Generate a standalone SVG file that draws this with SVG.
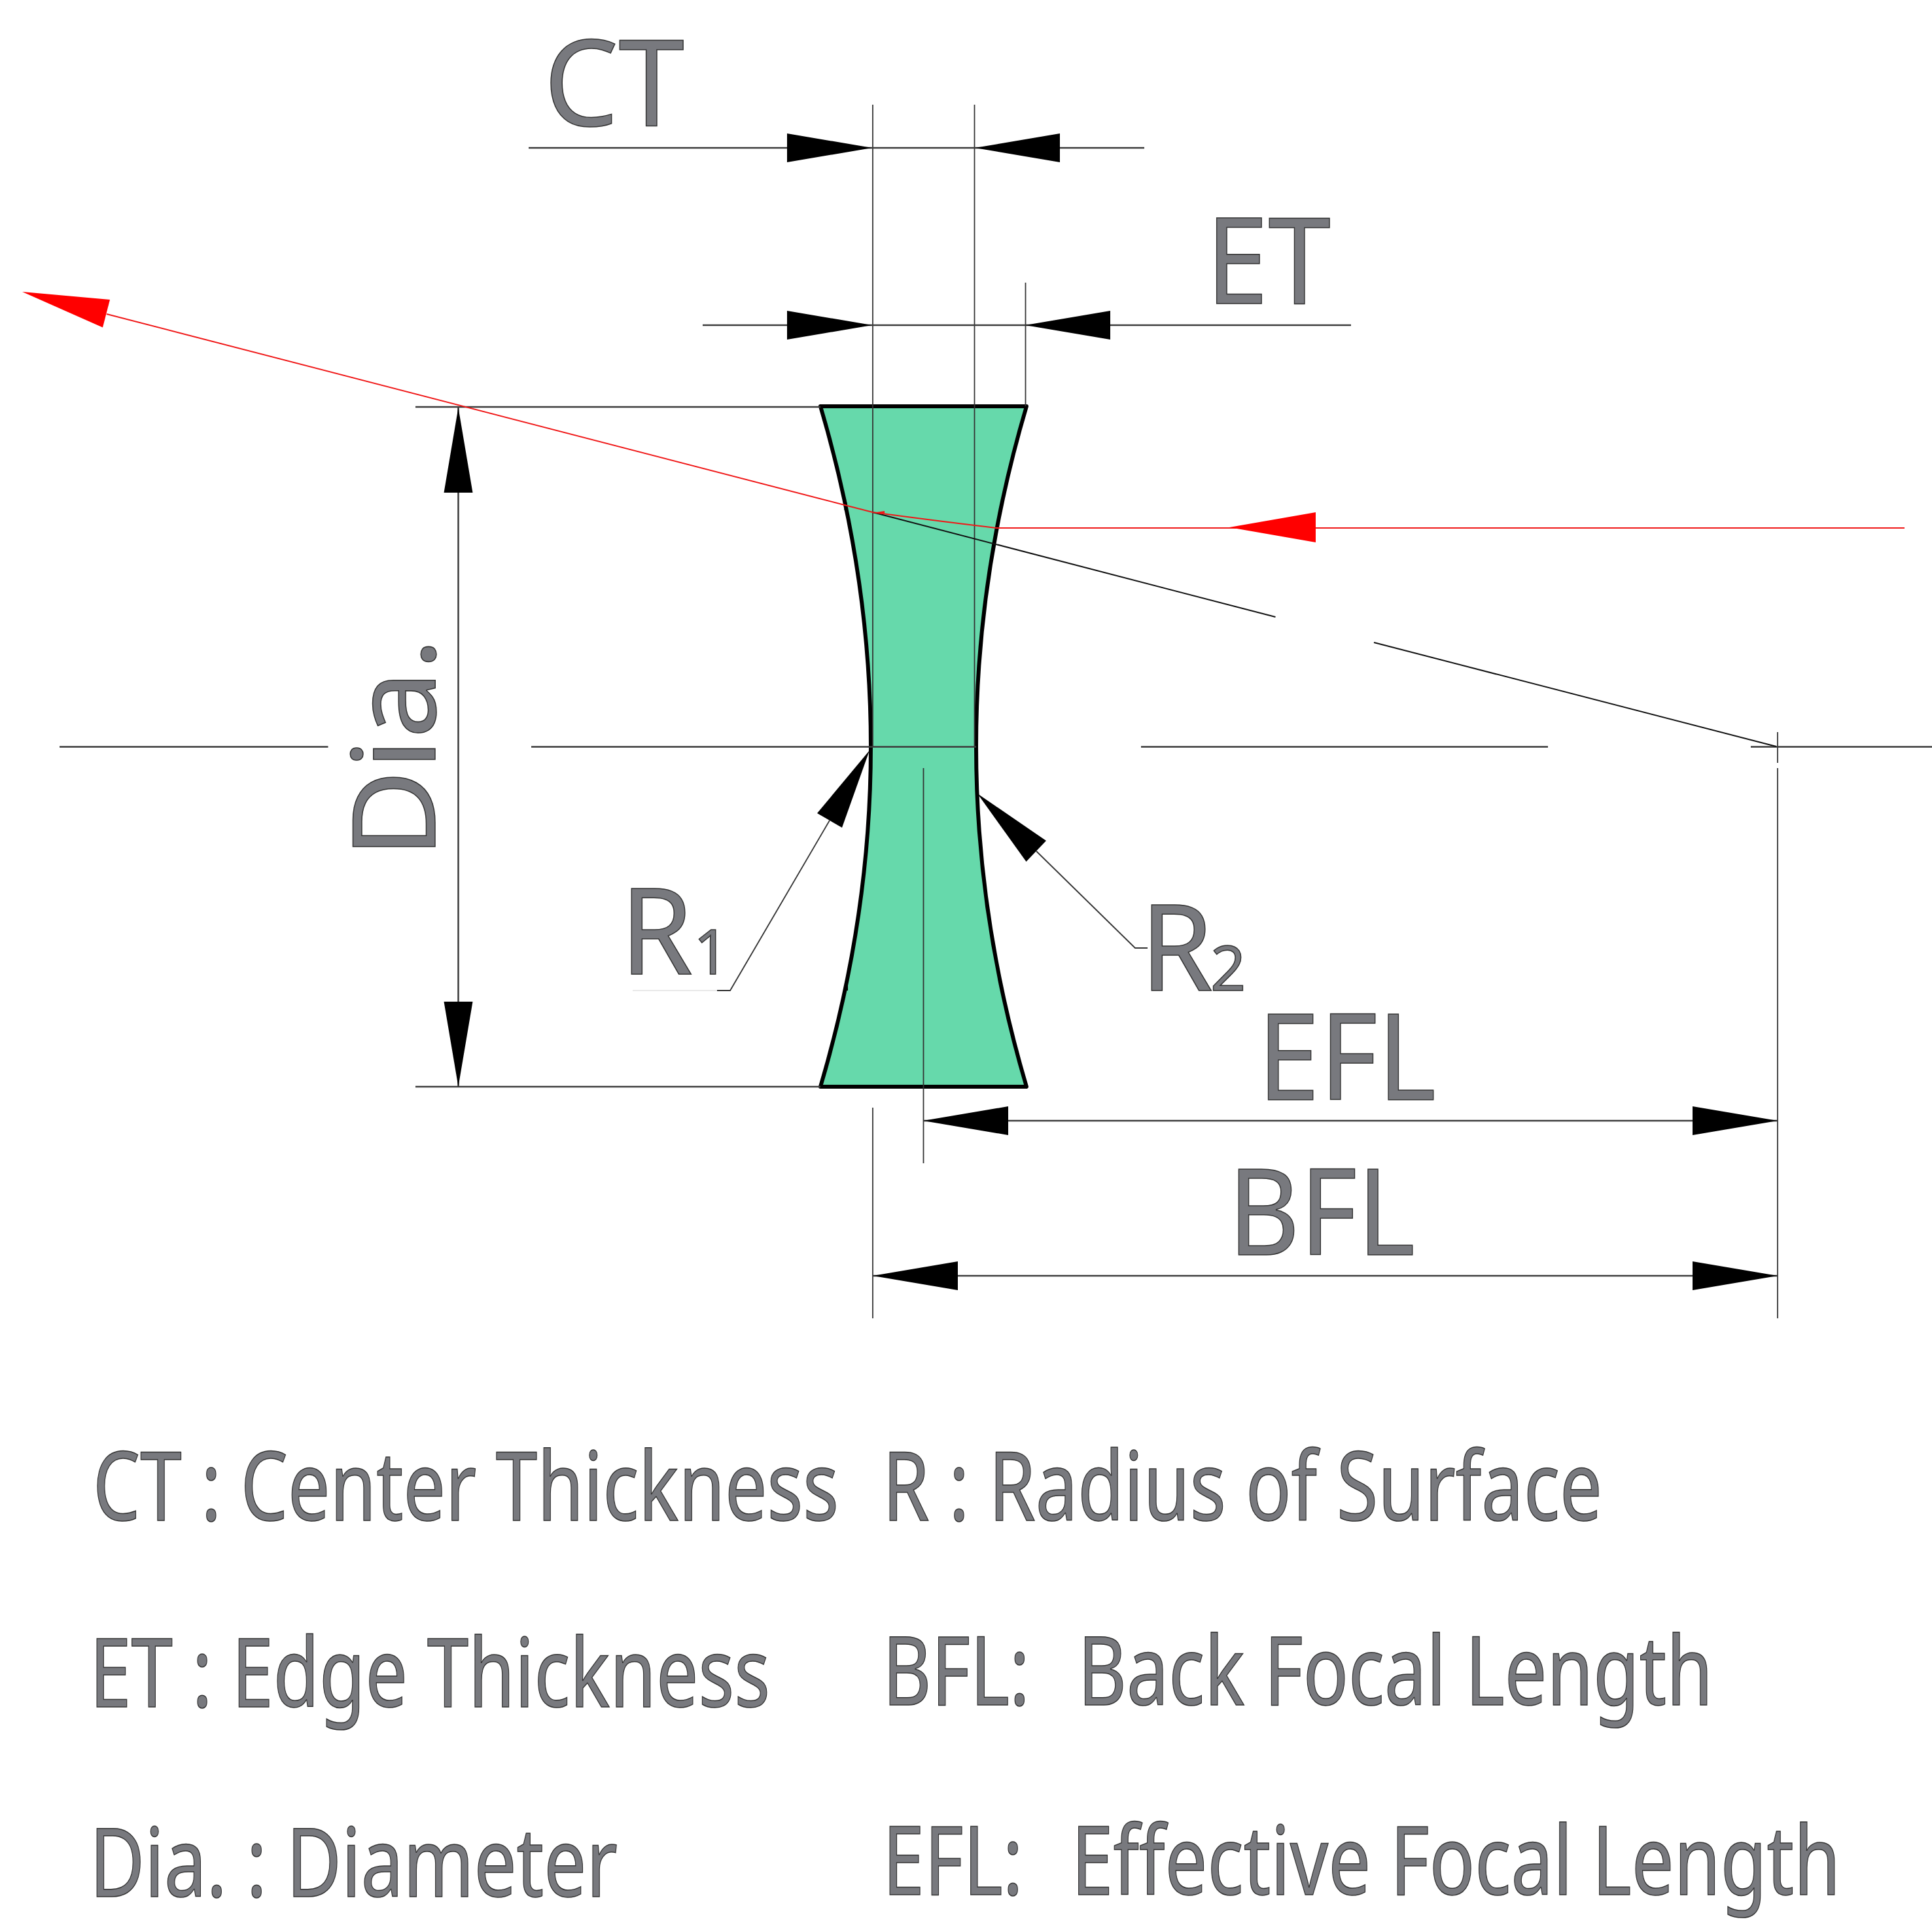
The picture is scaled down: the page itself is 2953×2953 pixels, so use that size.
<svg xmlns="http://www.w3.org/2000/svg" width="2953" height="2953" viewBox="0 0 2953 2953">
<style>
.t{font-family:"Noto Sans","Open Sans",sans-serif;fill:#78797e;stroke:#333;stroke-width:1.5;white-space:pre}
.big{font-size:182px}
.sub{font-size:95px}
.leg{font-size:147px}
.d{stroke:#3c3c3c;stroke-width:2.5;fill:none}
.e{stroke:#333;stroke-width:1.800;fill:none}
.r{stroke:#f01818;stroke-width:2;fill:none}
.k{stroke:#111;stroke-width:2;fill:none}
</style>
<defs>
<polygon id="ah" points="0,0 -130,-22 -130,22" fill="#000"/>
</defs>
<rect width="2953" height="2953" fill="#fff"/>
<g id="lens">
<path d="M1254,621 L1569,621 Q1492,881 1492,1141 Q1492,1401 1569,1661 L1254,1661 Q1331,1401 1331,1141 Q1331,881 1254,621 Z" fill="#66d9ab" stroke="#000" stroke-width="6" stroke-linejoin="round"/>
<path d="M1292.500,768V780M1294,1504V1514" stroke="#000" stroke-width="4" fill="none"/>
</g>
<g id="connectors">
<path class="e" d="M1334,160V1141M1489.500,160V1141M1567.500,432V621M1411.500,1174V1778M1334,1693V2015M2717,1119V1166M2717,1174V2015"/>
<path class="d" d="M808,226H1749M1074,497H2065"/>
<path class="d" d="M91,1141.500H501.500M812,1141.500H1492M1744,1141.500H2366M2676,1141.500H2953"/>
<path class="d" d="M635,622H1254M635,1661H1254"/>
<path class="d" d="M700.500,623V1661M1411,1713H2717M1334,1950H2717"/>
<path class="k" d="M1334,783L1949.500,943M2100,982L2715,1141"/>
<path class="e" d="M1268,1254L1116,1514H1096M1584,1301L1735,1449H1754"/>
<path d="M967,1514H1096" stroke="#e2e2e2" stroke-width="1.600" fill="none"/>
<path class="r" d="M163,480L1295,773L1334,783Q1430,796 1523,807H2911"/>
<polygon points="1336,783.500 1352,781 1352,785" fill="#f01818"/>
<polygon points="34,446 168,458 157,500.500" fill="#f00"/>
<polygon points="1879,806 2011,783 2011,829" fill="#f00"/>
<use href="#ah" transform="translate(1333,226)"/>
<use href="#ah" transform="translate(1490,226) rotate(180)"/>
<use href="#ah" transform="translate(1333,497)"/>
<use href="#ah" transform="translate(1567,497) rotate(180)"/>
<use href="#ah" transform="translate(700.500,623) rotate(-90)"/>
<use href="#ah" transform="translate(700.500,1661) rotate(90)"/>
<use href="#ah" transform="translate(1411,1713) rotate(180)"/>
<use href="#ah" transform="translate(2717,1713)"/>
<use href="#ah" transform="translate(1334,1950) rotate(180)"/>
<use href="#ah" transform="translate(2717,1950)"/>
<polygon points="1329,1147 1249,1243 1287,1265" fill="#000"/>
<polygon points="1494,1213 1599,1285 1568.500,1317" fill="#000"/>
</g>
<g id="label-ct"><text class="t big" x="831" y="192" textLength="215" lengthAdjust="spacingAndGlyphs">CT</text></g>
<g id="label-et"><text class="t big" x="1843" y="464" textLength="191" lengthAdjust="spacingAndGlyphs">ET</text></g>
<g id="label-dia"><text class="t" style="font-size:176px" transform="translate(665,1312) rotate(-90)" textLength="337" lengthAdjust="spacingAndGlyphs">Dia.</text></g>
<g id="label-r1"><text class="t big" x="948" y="1489" textLength="111" lengthAdjust="spacingAndGlyphs">R</text><text class="t sub" x="1060" y="1489">1</text></g>
<g id="label-r2"><text class="t big" x="1743" y="1514" textLength="111" lengthAdjust="spacingAndGlyphs">R</text><text class="t sub" x="1850" y="1514">2</text></g>
<g id="label-efl"><text class="t big" x="1922" y="1681" textLength="273" lengthAdjust="spacingAndGlyphs">EFL</text></g>
<g id="label-bfl"><text class="t big" x="1877" y="1918" textLength="286" lengthAdjust="spacingAndGlyphs">BFL</text></g>
<g id="legend">
<text class="t leg" x="142" y="2324" textLength="1140" lengthAdjust="spacingAndGlyphs">CT : Center Thickness</text>
<text class="t leg" x="137" y="2609" textLength="1040" lengthAdjust="spacingAndGlyphs">ET : Edge Thickness</text>
<text class="t leg" x="137" y="2899" textLength="807" lengthAdjust="spacingAndGlyphs">Dia. : Diameter</text>
<text class="t leg" x="1349" y="2324" textLength="1100" lengthAdjust="spacingAndGlyphs">R : Radius of Surface</text>
<text class="t leg" x="1349" y="2606" textLength="1269" lengthAdjust="spacingAndGlyphs">BFL:<tspan style="word-spacing:9px">  </tspan>Back Focal Length</text>
<text class="t leg" x="1349" y="2896" textLength="1464" lengthAdjust="spacingAndGlyphs">EFL:<tspan style="word-spacing:9px">  </tspan>Effective Focal Length</text>
</g>
</svg>
